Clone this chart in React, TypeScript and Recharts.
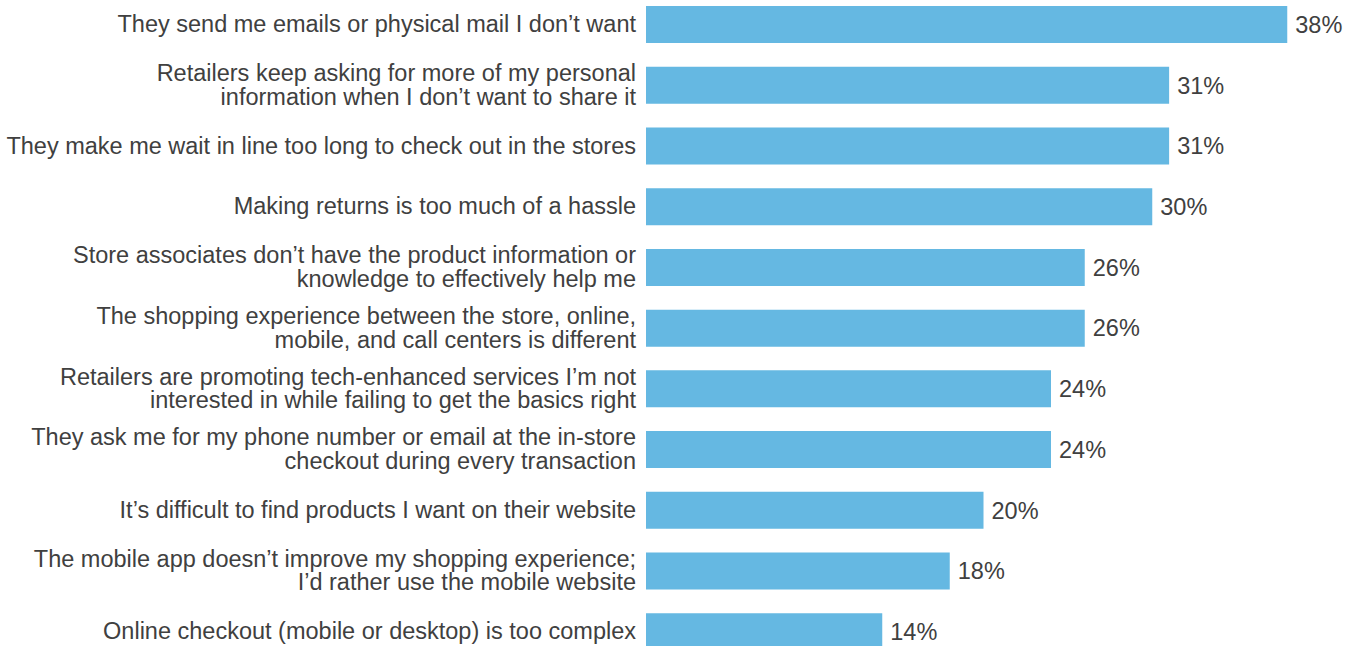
import { BarChart, Bar, XAxis, YAxis, LabelList } from "recharts";

const categories = [
  "They send me emails or physical mail I don’t want",
  "Retailers keep asking for more of my personal\ninformation when I don’t want to share it",
  "They make me wait in line too long to check out in the stores",
  "Making returns is too much of a hassle",
  "Store associates don’t have the product information or\nknowledge to effectively help me",
  "The shopping experience between the store, online,\nmobile, and call centers is different",
  "Retailers are promoting tech-enhanced services I’m not\ninterested in while failing to get the basics right",
  "They ask me for my phone number or email at the in-store\ncheckout during every transaction",
  "It’s difficult to find products I want on their website",
  "The mobile app doesn’t improve my shopping experience;\nI’d rather use the mobile website",
  "Online checkout (mobile or desktop) is too complex",
];

const values = [38, 31, 31, 30, 26, 26, 24, 24, 20, 18, 14];

const data = categories.map((name, i) => ({ name, value: values[i] }));

const FONT = "'Liberation Sans', Arial, sans-serif";
const FONT_SIZE = 23.5;
const TEXT_COLOR = "#404040";
const LINE_HEIGHT = 23.5;

function CategoryTick(props: any) {
  const { x, y, payload } = props;
  const lines: string[] = String(payload.value).split("\n");
  const first = FONT_SIZE * 0.33 - ((lines.length - 1) / 2) * LINE_HEIGHT;
  return (
    <text
      x={x}
      y={y}
      textAnchor="end"
      fill={TEXT_COLOR}
      fontFamily={FONT}
      fontSize={FONT_SIZE}
    >
      {lines.map((line, i) => (
        <tspan key={i} x={x} y={y + first + i * LINE_HEIGHT}>
          {line}
        </tspan>
      ))}
    </text>
  );
}

export default function App() {
  return (
    <div style={{ position: "absolute", left: 0, top: -6 }}>
      <BarChart
        width={1355}
        height={668}
        data={data}
        layout="vertical"
        margin={{ top: 0, right: 34, bottom: 0, left: 0 }}
      >
        <XAxis type="number" domain={[0, 40]} hide />
        <YAxis
          type="category"
          dataKey="name"
          width={646}
          axisLine={false}
          tickLine={false}
          tickSize={0}
          tickMargin={10}
          interval={0}
          tick={<CategoryTick />}
        />
        <Bar dataKey="value" fill="#65B8E2" barSize={37} isAnimationActive={false}>
          <LabelList
            dataKey="value"
            position="right"
            offset={8}
            formatter={(v: any) => `${v}%`}
            fill={TEXT_COLOR}
            fontFamily={FONT}
            fontSize={FONT_SIZE}
          />
        </Bar>
      </BarChart>
    </div>
  );
}
